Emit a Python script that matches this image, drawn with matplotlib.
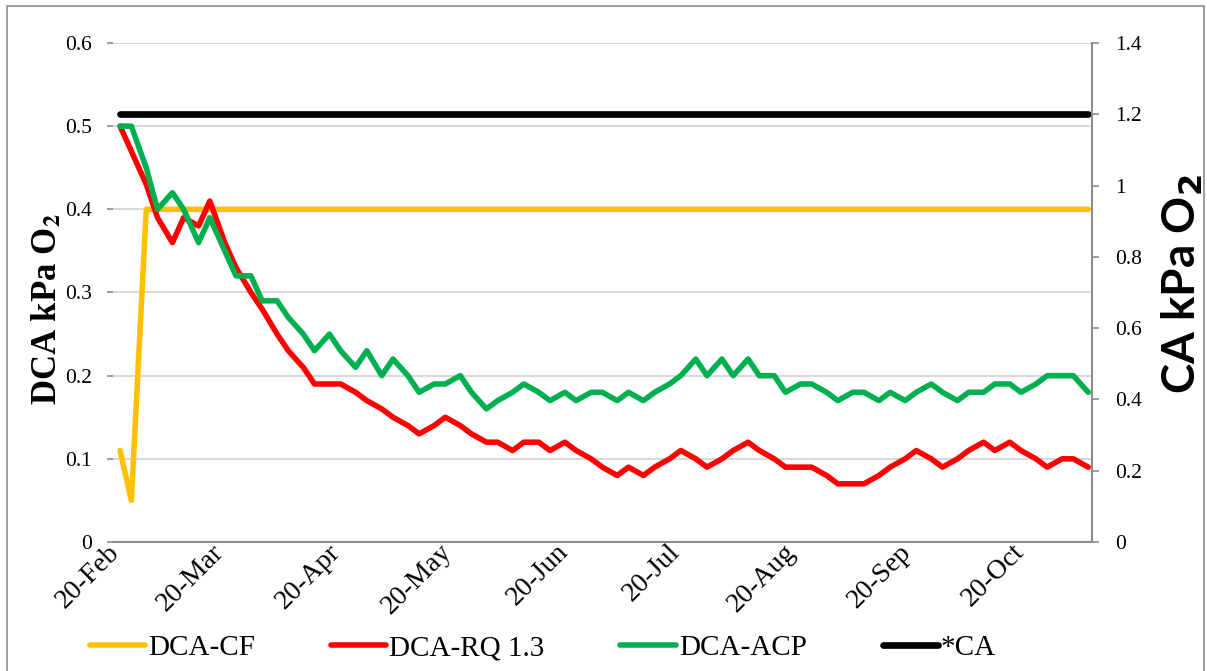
"""DCA vs CA storage - O2 setpoints over the season."""

import datetime as dt

import matplotlib

matplotlib.use("Agg")
import matplotlib.dates as mdates
import matplotlib.pyplot as plt
import matplotlib.ticker as mticker
from matplotlib.patches import Rectangle

plt.rcParams["font.family"] = ["Liberation Serif", "DejaVu Serif"]
plt.rcParams["lines.solid_capstyle"] = "round"
plt.rcParams["lines.solid_joinstyle"] = "round"

# measurement days (twice a week)
DAYS = [
    "02-20", "02-23", "02-27", "03-02", "03-06", "03-09", "03-13", "03-16", "03-20", "03-23",
    "03-27", "03-30", "04-03", "04-06", "04-10", "04-13", "04-17", "04-20", "04-24", "04-27",
    "05-01", "05-04", "05-08", "05-11", "05-15", "05-18", "05-22", "05-25", "05-29", "06-01",
    "06-05", "06-08", "06-12", "06-15", "06-19", "06-22", "06-26", "06-29", "07-03", "07-06",
    "07-10", "07-13", "07-17", "07-20", "07-24", "07-27", "07-31", "08-03", "08-07", "08-10",
    "08-14", "08-17", "08-21", "08-24", "08-28", "08-31", "09-04", "09-07", "09-11", "09-14",
    "09-18", "09-21", "09-25", "09-28", "10-02", "10-05", "10-09", "10-12", "10-16", "10-19",
    "10-23", "10-26", "10-30", "11-02", "11-06",
]
dates = [dt.date(2015, int(s[:2]), int(s[3:])) for s in DAYS]

dca_cf = [0.11, 0.05] + [0.40] * 73

dca_rq = [
    0.50, 0.47, 0.43, 0.39, 0.36, 0.39, 0.38, 0.41, 0.36, 0.33,
    0.30, 0.28, 0.25, 0.23, 0.21, 0.19, 0.19, 0.19, 0.18, 0.17,
    0.16, 0.15, 0.14, 0.13, 0.14, 0.15, 0.14, 0.13, 0.12, 0.12,
    0.11, 0.12, 0.12, 0.11, 0.12, 0.11, 0.10, 0.09, 0.08, 0.09,
    0.08, 0.09, 0.10, 0.11, 0.10, 0.09, 0.10, 0.11, 0.12, 0.11,
    0.10, 0.09, 0.09, 0.09, 0.08, 0.07, 0.07, 0.07, 0.08, 0.09,
    0.10, 0.11, 0.10, 0.09, 0.10, 0.11, 0.12, 0.11, 0.12, 0.11,
    0.10, 0.09, 0.10, 0.10, 0.09,
]

dca_acp = [
    0.50, 0.50, 0.45, 0.40, 0.42, 0.40, 0.36, 0.39, 0.35, 0.32,
    0.32, 0.29, 0.29, 0.27, 0.25, 0.23, 0.25, 0.23, 0.21, 0.23,
    0.20, 0.22, 0.20, 0.18, 0.19, 0.19, 0.20, 0.18, 0.16, 0.17,
    0.18, 0.19, 0.18, 0.17, 0.18, 0.17, 0.18, 0.18, 0.17, 0.18,
    0.17, 0.18, 0.19, 0.20, 0.22, 0.20, 0.22, 0.20, 0.22, 0.20,
    0.20, 0.18, 0.19, 0.19, 0.18, 0.17, 0.18, 0.18, 0.17, 0.18,
    0.17, 0.18, 0.19, 0.18, 0.17, 0.18, 0.18, 0.19, 0.19, 0.18,
    0.19, 0.20, 0.20, 0.20, 0.18,
]

ca = [1.2] * 75

GREY = "#8c8c8c"
W, H = 1207, 671

fig = plt.figure(figsize=(W / 100, H / 100), dpi=100)
ax = fig.add_axes([113 / W, 129 / H, 979 / W, 499 / H])
ax2 = ax.twinx()

l1, = ax.plot(dates, dca_cf, color="#FFC000", lw=4.0, label="DCA-CF")
l2, = ax.plot(dates, dca_rq, color="#FF0000", lw=4.0, label="DCA-RQ 1.3")
l3, = ax.plot(dates, dca_acp, color="#00B050", lw=4.0, label="DCA-ACP")
l4, = ax2.plot(dates, ca, color="black", lw=4.8, label="*CA")

start = dt.datetime(2015, 2, 20)
ax.set_xlim(start - dt.timedelta(days=1.9), start + dt.timedelta(days=260))
ax.xaxis.set_major_locator(mdates.MonthLocator(bymonthday=20))
ax.xaxis.set_major_formatter(mdates.DateFormatter("%d-%b"))

fmt = mticker.FuncFormatter(lambda v, _: f"{v:g}")
ax.set_ylim(0, 0.6)
ax.yaxis.set_major_locator(mticker.MultipleLocator(0.1))
ax.yaxis.set_major_formatter(fmt)
ax2.set_ylim(0, 1.4)
ax2.yaxis.set_major_locator(mticker.MultipleLocator(0.2))
ax2.yaxis.set_major_formatter(fmt)

ax.yaxis.grid(True, color="#d9d9d9", lw=1.5)
ax.set_axisbelow(True)

for a in (ax, ax2):
    for side in ("top", "left", "right", "bottom"):
        a.spines[side].set_visible(False)
ax.spines["bottom"].set_visible(True)
ax.spines["bottom"].set_color(GREY)
ax.spines["bottom"].set_linewidth(1.5)
ax2.spines["right"].set_visible(True)
ax2.spines["right"].set_color(GREY)
ax2.spines["right"].set_linewidth(1.5)

ax.tick_params(axis="y", length=4, width=1.2, color=GREY, pad=11, labelsize=15.5)
ax.tick_params(axis="x", length=0, pad=8, labelsize=20)
ax2.tick_params(axis="y", length=5, width=1.2, color=GREY, pad=12, labelsize=15.5)
for lab in ax.get_xticklabels():
    lab.set_rotation(45)
    lab.set_rotation_mode("anchor")
    lab.set_ha("right")
    lab.set_va("baseline")

fig.text(47 / W, 1 - 309 / H, r"DCA kPa O$_\mathbf{2}$", rotation=90,
         ha="center", va="center", fontsize=25, fontweight="bold",
         math_fontfamily="stix")
fig.text(1182 / W, 1 - 284 / H, r"CA kPa O$_\mathbf{2}$", rotation=90,
         ha="center", va="center", fontsize=33, fontweight="bold",
         family=["Lato", "DejaVu Sans"], math_fontfamily="dejavusans")

fig.legend(handles=[l1, l2, l3, l4], loc="center left",
           bbox_to_anchor=(90 / W, 23 / H), ncol=4, frameon=False,
           fontsize=21, handlelength=1.9, handletextpad=0.1,
           columnspacing=2.6, borderpad=0, borderaxespad=0)

# outer chart border
fig.patches.append(Rectangle((7 / W, -0.01), 1197 / W, 1.01 - 6 / H,
                             transform=fig.transFigure, fill=False,
                             ec=GREY, lw=1.2))

fig.savefig("out.png", dpi=100)
